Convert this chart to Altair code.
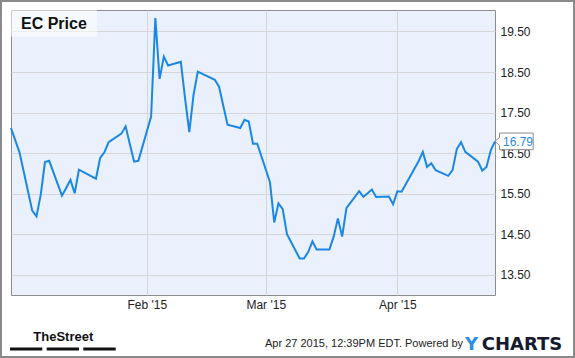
import altair as alt
import pandas as pd

# ---- data ----
dates = [
    "2014-12-31", "2015-01-02", "2015-01-05", "2015-01-06", "2015-01-07", "2015-01-08",
    "2015-01-09", "2015-01-12", "2015-01-13", "2015-01-14", "2015-01-15", "2015-01-16",
    "2015-01-20", "2015-01-21", "2015-01-22", "2015-01-23", "2015-01-26", "2015-01-27",
    "2015-01-28", "2015-01-29", "2015-01-30", "2015-02-02", "2015-02-03", "2015-02-04",
    "2015-02-05", "2015-02-06", "2015-02-09", "2015-02-10", "2015-02-11", "2015-02-12",
    "2015-02-13", "2015-02-17", "2015-02-18", "2015-02-19", "2015-02-20", "2015-02-23",
    "2015-02-24", "2015-02-25", "2015-02-26", "2015-02-27", "2015-03-02", "2015-03-03",
    "2015-03-04", "2015-03-05", "2015-03-06", "2015-03-09", "2015-03-10", "2015-03-11",
    "2015-03-12", "2015-03-13", "2015-03-16", "2015-03-17", "2015-03-18", "2015-03-19",
    "2015-03-20", "2015-03-23", "2015-03-24", "2015-03-25", "2015-03-26", "2015-03-27",
    "2015-03-30", "2015-03-31", "2015-04-01", "2015-04-02", "2015-04-06", "2015-04-07",
    "2015-04-08", "2015-04-09", "2015-04-10", "2015-04-13", "2015-04-14", "2015-04-15",
    "2015-04-16", "2015-04-17", "2015-04-20", "2015-04-21", "2015-04-22", "2015-04-23",
    "2015-04-24",
]
prices = [
    17.12, 16.52, 15.08, 14.94, 15.47, 16.28,
    16.31, 15.45, 15.64, 15.84, 15.51, 16.09,
    15.87, 16.38, 16.52, 16.77, 16.98, 17.16,
    16.72, 16.29, 16.31, 17.40, 19.83, 18.33,
    18.88, 18.66, 18.75, 17.85, 17.02, 17.94,
    18.51, 18.31, 18.14, 17.67, 17.20, 17.12,
    17.32, 17.28, 16.73, 16.73, 15.78, 14.79,
    15.26, 15.12, 14.50, 13.90, 13.90, 14.06,
    14.32, 14.12, 14.12, 14.44, 14.89, 14.44,
    15.14, 15.56, 15.42, 15.51, 15.60, 15.42,
    15.43, 15.24, 15.56, 15.55, 16.30, 16.53,
    16.16, 16.25, 16.08, 15.94, 16.08, 16.60,
    16.77, 16.53, 16.29, 16.07, 16.16, 16.57,
    16.79,
]
y_ticks = [13.5, 14.5, 15.5, 16.5, 17.5, 18.5, 19.5]
x_tick_months = [2, 3, 4]
title_text = "EC Price"
footer_text = "Apr 27 2015, 12:39PM EDT.  Powered by"
brand_left = "TheStreet"
brand_y = "Y"
brand_rest = "CHARTS"

df = pd.DataFrame({"date": dates, "price": prices})
last = pd.DataFrame({"date": [dates[-1]], "price": [prices[-1]]})
one = alt.Data(values=[{}])

FONT = "Liberation Sans, Arial, sans-serif"
LINE_BLUE = "#1a87e6"

x_scale = alt.Scale(
    type="utc",
    domain=[
        alt.DateTime(year=2014, month=12, date=31, utc=True),
        alt.DateTime(year=2015, month=4, date=24, utc=True),
    ],
)
y_scale = alt.Scale(domain=[13.0, 20.03], nice=False, zero=False)

x_axis = alt.Axis(
    values=[alt.DateTime(year=2015, month=m, date=1, utc=True) for m in x_tick_months],
    format="%b '%y",
    title=None,
    grid=True,
    gridColor="#d6d6d6",
    ticks=False,
    tickSize=0,
    domain=False,
    labelPadding=4,
    labelFontSize=12,
    labelColor="#222222",
    labelFont=FONT,
)
y_axis = alt.Axis(
    orient="right",
    values=y_ticks,
    format=".2f",
    title=None,
    grid=True,
    gridColor="#d6d6d6",
    ticks=False,
    tickSize=0,
    domain=False,
    labelPadding=5,
    labelFontSize=12,
    labelColor="#222222",
    labelFont=FONT,
)

X = alt.X("date:T", scale=x_scale, axis=x_axis)
Y = alt.Y("price:Q", scale=y_scale, axis=y_axis)

line = alt.Chart(df).mark_line(color=LINE_BLUE, strokeWidth=2).encode(x=X, y=Y)

callout_shape = "M 0 0 L 0.225 -0.2 L 0.225 -0.415 L 1.91 -0.415 L 1.91 0.415 L 0.225 0.415 L 0.225 0.2 Z"
callout = alt.Chart(last).mark_point(
    shape=callout_shape, size=1600, filled=True, fill="white", stroke="#8c8c8c",
    strokeWidth=1, opacity=1, fillOpacity=1, strokeOpacity=1,
).encode(x=X, y=Y)
callout_text = alt.Chart(last).mark_text(
    align="left", baseline="middle", dx=8, dy=1, color="#2a8ae6", fontSize=12, font=FONT,
).encode(x=X, y=Y, text=alt.Text("price:Q", format=".2f"))

title_box = alt.Chart(one).mark_rect(fill="white", opacity=0.55).encode(
    x=alt.value(0), x2=alt.value(86), y=alt.value(0), y2=alt.value(26.7)
)
title = alt.Chart(one).mark_text(
    align="left", baseline="alphabetic", fontSize=16, fontWeight="bold", font=FONT, color="#111111"
).encode(x=alt.value(10), y=alt.value(19.4), text=alt.value(title_text))

outer = alt.Chart(one).mark_rect(fillOpacity=0, stroke="#8a8a8a", strokeWidth=2).encode(
    x=alt.value(-10), x2=alt.value(563), y=alt.value(-9), y2=alt.value(347)
)

street = alt.Chart(one).mark_text(
    align="center", baseline="alphabetic", fontSize=13, fontWeight="bold",
    font="Liberation Sans Narrow, Arial Narrow, Liberation Sans", color="#111111",
).encode(x=alt.value(52.3), y=alt.value(330.5), text=alt.value(brand_left))
bar1 = alt.Chart(one).mark_rule(color="#111111", strokeWidth=3).encode(
    x=alt.value(-1), x2=alt.value(31.3), y=alt.value(339)
)
bar2 = alt.Chart(one).mark_rule(color="#111111", strokeWidth=3).encode(
    x=alt.value(35.7), x2=alt.value(68), y=alt.value(339)
)
bar3 = alt.Chart(one).mark_rule(color="#111111", strokeWidth=3).encode(
    x=alt.value(72.3), x2=alt.value(104.7), y=alt.value(339)
)

footer = alt.Chart(one).mark_text(
    align="left", baseline="alphabetic", fontSize=11, font=FONT, color="#222222"
).encode(x=alt.value(254), y=alt.value(336.7), text=alt.value(footer_text))
logo_y = alt.Chart(one).mark_text(
    align="left", baseline="alphabetic", fontSize=18, fontWeight="bold",
    font="DejaVu Sans", color="#2b8fe8",
).encode(x=alt.value(454), y=alt.value(340), text=alt.value(brand_y))
logo_rest = alt.Chart(one).mark_text(
    align="left", baseline="alphabetic", fontSize=18, fontWeight="bold",
    font="DejaVu Sans", color="#151a2e",
).encode(x=alt.value(470.7), y=alt.value(340), text=alt.value(brand_rest))

chart = alt.layer(
    line, callout, callout_text, title_box, title, outer,
    street, bar1, bar2, bar3, footer, logo_y, logo_rest,
).properties(
    width=484,
    height=285,
    autosize=alt.AutoSizeParams(type="none"),
    padding={"left": 11, "top": 10, "right": 80, "bottom": 63},
    background="white",
).configure_view(
    fill="#eaf1fc", stroke="#8c8c8c", strokeWidth=1
)

chart.save("out.html", embed_options={"renderer": "svg", "actions": False})
